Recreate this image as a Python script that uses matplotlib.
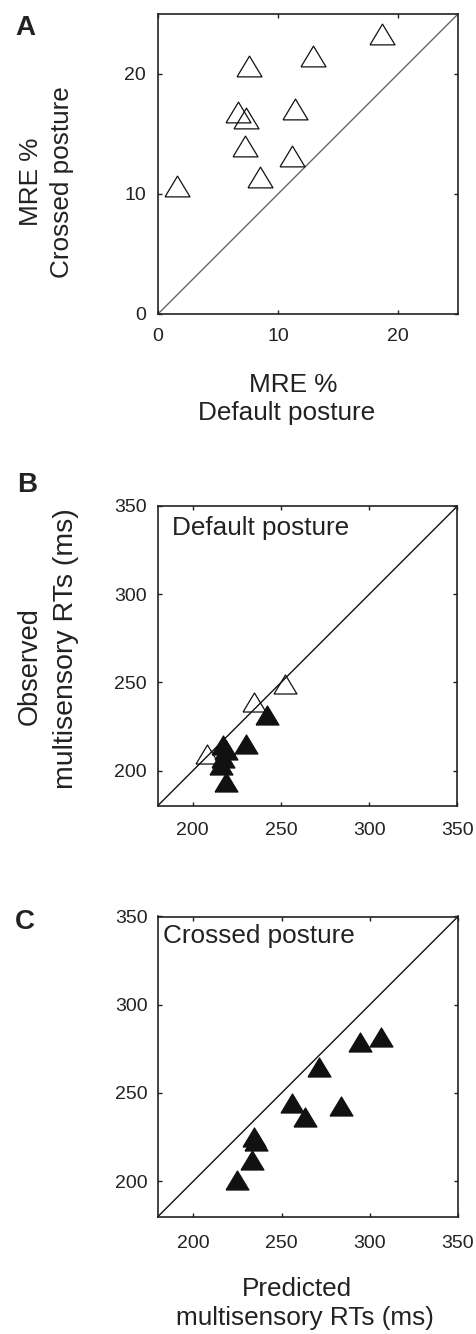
import matplotlib
matplotlib.use('Agg')
import matplotlib.pyplot as plt

plt.rcParams['font.family'] = ['Liberation Sans', 'DejaVu Sans']

# A: MRE %, default vs crossed posture
a_default = [1.6, 7.6, 12.9, 18.7, 6.7, 7.3, 11.4, 7.25, 11.2, 8.5]
a_crossed = [10.7, 20.7, 21.5, 23.3, 16.8, 16.3, 17.05, 14.0, 13.2, 11.4]

# B: default posture, predicted vs observed RTs (ms)
b_open_pred = [208, 234.7, 252]
b_open_obs = [209.5, 239, 249]
b_fill_pred = [242, 230, 217.3, 218.8, 217, 216, 219]
b_fill_obs = [231.5, 215.3, 214.5, 211.5, 207, 203.5, 193.5]

# C: crossed posture
c_pred = [224.7, 233.1, 234.5, 235.5, 256.2, 263.1, 271, 283.7, 294.4, 306.6]
c_obs = [200.8, 212, 225, 223, 244.5, 236.6, 264.8, 242.7, 279.1, 281.8]

W, H = 476, 1334
fig = plt.figure(figsize=(W / 100, H / 100), dpi=100)

# 三角形标记，比正三角形扁一点
tri = [(-1, -0.83), (1, -0.83), (0, 0.83), (-1, -0.83)]


def add_ax(left, top, w, h):
    return fig.add_axes([left / W, 1 - (top + h) / H, w / W, h / H])


def style(ax, lo, hi, ticks, xpad, ypad):
    ax.set_xlim(lo, hi)
    ax.set_ylim(lo, hi)
    ax.set_xticks(ticks)
    ax.set_yticks(ticks)
    ax.tick_params(direction='in', length=3, width=1, top=True, right=True,
                   labelsize=14, colors='#222222')
    ax.tick_params(axis='x', pad=xpad)
    ax.tick_params(axis='y', pad=ypad)
    for s in ax.spines.values():
        s.set_linewidth(1.2)
        s.set_color('#222222')


def ftext(x, y, s, **kw):
    fig.text(x / W, 1 - y / H, s, **kw)


# 图A
ax = add_ax(158, 14, 300, 300)
ax.plot([0, 25], [0, 25], color='#666666', lw=1)
ax.plot(a_default, a_crossed, linestyle='none', marker=tri, markersize=18,
        markerfacecolor='none', markeredgecolor='#111111', markeredgewidth=0.9)
style(ax, 0, 25, [0, 10, 20], 10, 8.5)

# 图B
ax = add_ax(157.5, 506, 300, 300)
ax.plot([180, 350], [180, 350], color='#111111', lw=1)
ax.plot(b_open_pred, b_open_obs, linestyle='none', marker=tri, markersize=16.5,
        markerfacecolor='none', markeredgecolor='#111111', markeredgewidth=0.9)
ax.plot(b_fill_pred, b_fill_obs, linestyle='none', marker=tri, markersize=16.5,
        markerfacecolor='#111111', markeredgecolor='#111111', markeredgewidth=0.9)
style(ax, 180, 350, [200, 250, 300, 350], 11.5, 7.5)

# 图C
ax = add_ax(158, 916.5, 300, 300)
ax.plot([180, 350], [180, 350], color='#111111', lw=1)
ax.plot(c_pred, c_obs, linestyle='none', marker=tri, markersize=16.5,
        markerfacecolor='#111111', markeredgecolor='#111111', markeredgewidth=0.9)
style(ax, 180, 350, [200, 250, 300, 350], 13, 7.5)

# 文字标签
lab = dict(fontsize=18.8, color='#222222')
ftext(15, 35, 'A', fontsize=20, fontweight='bold', color='#222222')
ftext(17, 492, 'B', fontsize=20, fontweight='bold', color='#222222')
ftext(15, 929, 'C', fontsize=20, fontweight='bold', color='#222222')

ftext(38, 182, 'MRE %', rotation=90, rotation_mode='anchor', ha='center', va='baseline', **lab)
ftext(69, 182, 'Crossed posture', rotation=90, rotation_mode='anchor', ha='center', va='baseline', **lab)
ftext(293, 391.5, 'MRE %', ha='center', va='baseline', **lab)
ftext(287, 420, 'Default posture', ha='center', va='baseline', **lab)

ftext(37, 666, 'Observed', rotation=90, rotation_mode='anchor', ha='center', va='baseline',
      fontsize=19.5, color='#222222')
ftext(73, 649, 'multisensory RTs (ms)', rotation=90, rotation_mode='anchor', ha='center',
      va='baseline', fontsize=20.5, color='#222222')
ftext(172, 535, 'Default posture', ha='left', va='baseline', **lab)

ftext(163, 943, 'Crossed posture', ha='left', va='baseline', **lab)
ftext(297, 1296.5, 'Predicted', ha='center', va='baseline', **lab)
ftext(305, 1325, 'multisensory RTs (ms)', ha='center', va='baseline', **lab)

fig.savefig('out.png', dpi=100)
